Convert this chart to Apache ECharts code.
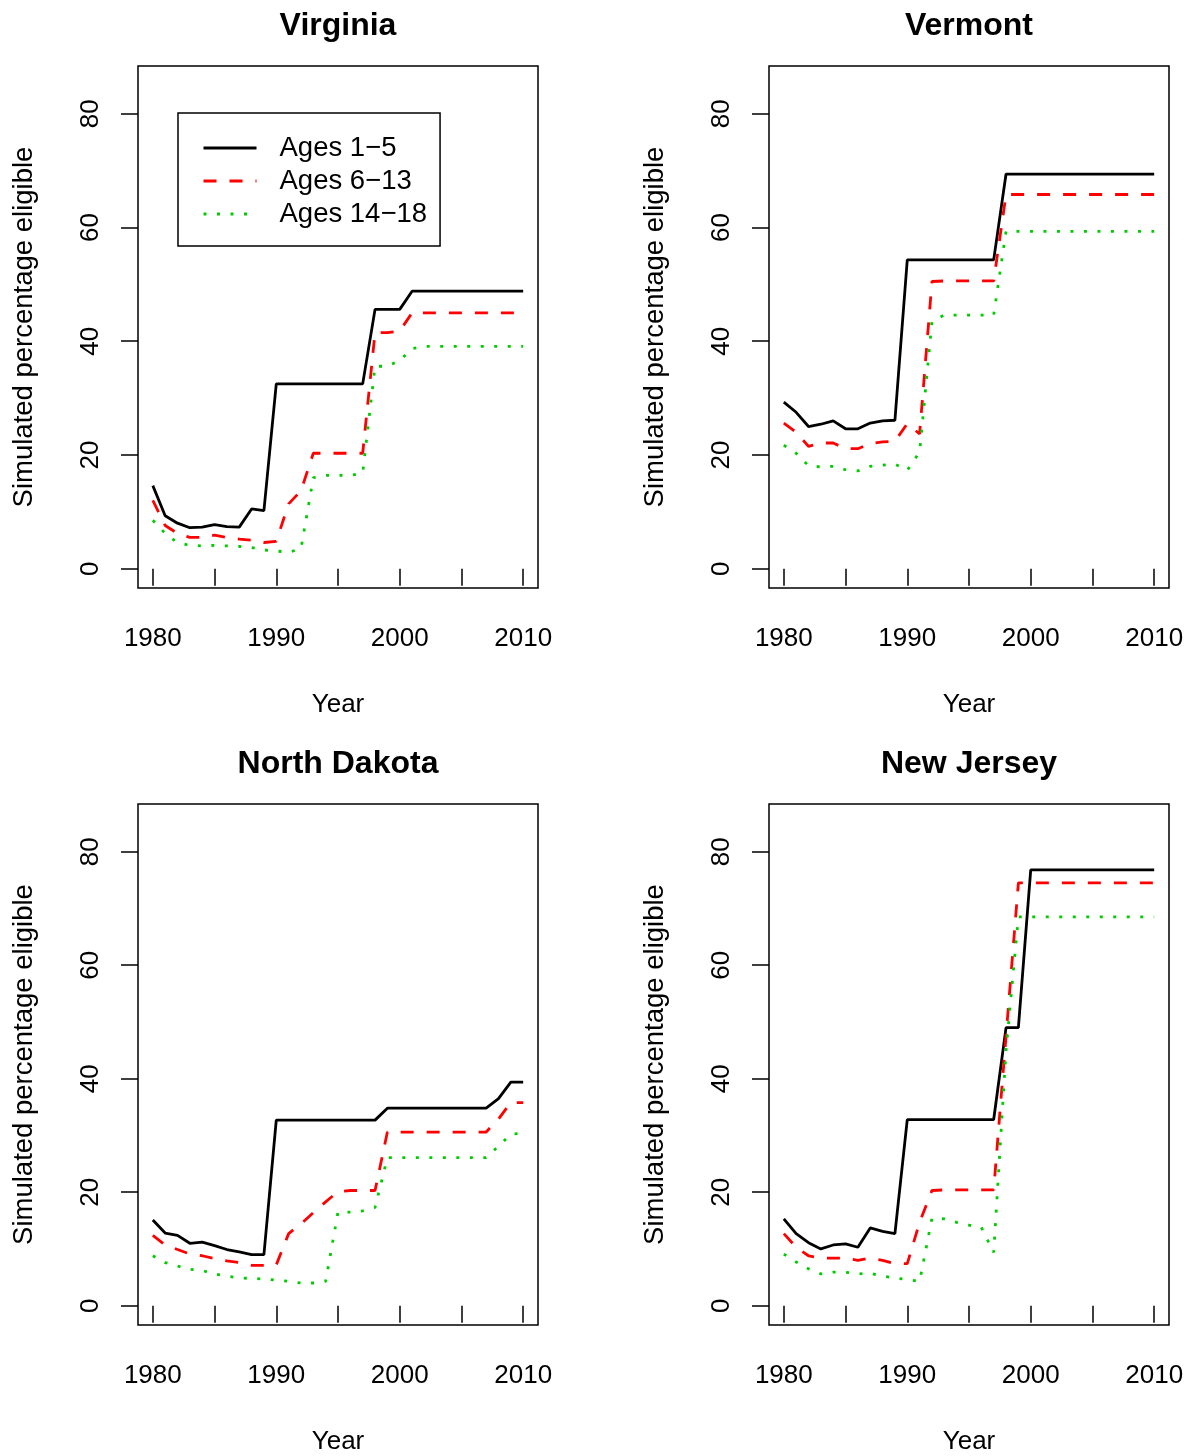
<!DOCTYPE html>
<html>
<head>
<meta charset="utf-8">
<title>Simulated percentage eligible</title>
<script src="https://cdn.jsdelivr.net/npm/echarts@6/dist/echarts.min.js"></script>
<style>
  html, body { margin: 0; padding: 0; background: #fff; }
  #chart { width: 1196px; height: 1456px; }
</style>
</head>
<body>
<div id="chart"></div>
<script>
var years = [1980, 1981, 1982, 1983, 1984, 1985, 1986, 1987, 1988, 1989,
    1990, 1991, 1992, 1993, 1994, 1995, 1996, 1997, 1998, 1999,
    2000, 2001, 2002, 2003, 2004, 2005, 2006, 2007, 2008, 2009, 2010];

var states = ['Virginia', 'Vermont', 'North Dakota', 'New Jersey'];
var ageGroups = ['Ages 1\u22125', 'Ages 6\u221213', 'Ages 14\u221218'];
var xTicks = [1980, 1985, 1990, 1995, 2000, 2005, 2010];
var xLabels = [1980, 1990, 2000, 2010];
var yTicks = [0, 20, 40, 60, 80];

// Virginia
var vaAges1to5 = [14.6, 9.3, 8.0, 7.2, 7.3, 7.75, 7.4, 7.3, 10.5, 10.2,
    32.5, 32.5, 32.5, 32.5, 32.5, 32.5, 32.5, 32.5, 45.6, 45.6,
    45.6, 48.8, 48.8, 48.8, 48.8, 48.8, 48.8, 48.8, 48.8, 48.8, 48.8];
var vaAges6to13 = [12.0, 7.6, 6.2, 5.5, 5.5, 5.9, 5.5, 5.2, 5.0, 4.6,
    4.8, 11.4, 13.7, 20.3, 20.3, 20.3, 20.3, 20.3, 41.5, 41.5,
    41.8, 45.0, 45.0, 45.0, 45.0, 45.0, 45.0, 45.0, 45.0, 45.0, 45.0];
var vaAges14to18 = [8.5, 6.2, 4.6, 4.1, 4.0, 4.1, 4.0, 3.9, 3.7, 3.3,
    3.1, 2.9, 3.5, 16.0, 16.4, 16.4, 16.4, 16.8, 35.6, 35.6,
    36.6, 38.7, 39.1, 39.1, 39.1, 39.1, 39.1, 39.1, 39.1, 39.1, 39.1];

// Vermont
var vtAges1to5 = [29.3, 27.5, 25.0, 25.4, 26.0, 24.6, 24.6, 25.6, 26.0, 26.1,
    54.3, 54.3, 54.3, 54.3, 54.3, 54.3, 54.3, 54.3, 69.4, 69.4,
    69.4, 69.4, 69.4, 69.4, 69.4, 69.4, 69.4, 69.4, 69.4, 69.4, 69.4];
var vtAges6to13 = [25.6, 24.0, 21.5, 22.1, 22.1, 21.1, 21.1, 22.0, 22.3, 22.4,
    25.5, 23.7, 50.5, 50.6, 50.6, 50.6, 50.6, 50.6, 65.8, 65.8,
    65.8, 65.8, 65.8, 65.8, 65.8, 65.8, 65.8, 65.8, 65.8, 65.8, 65.8];
var vtAges14to18 = [21.7, 20.3, 18.1, 17.9, 18.0, 17.4, 17.2, 18.0, 18.2, 18.4,
    17.3, 20.5, 43.5, 44.6, 44.6, 44.6, 44.6, 44.6, 59.3, 59.3,
    59.3, 59.3, 59.3, 59.3, 59.3, 59.3, 59.3, 59.3, 59.3, 59.3, 59.3];

// North Dakota
var ndAges1to5 = [15.1, 12.8, 12.4, 11.0, 11.2, 10.6, 9.9, 9.5, 9.0, 9.0,
    32.7, 32.7, 32.7, 32.7, 32.7, 32.7, 32.7, 32.7, 32.7, 34.8,
    34.8, 34.8, 34.8, 34.8, 34.8, 34.8, 34.8, 34.8, 36.5, 39.4, 39.4];
var ndAges6to13 = [12.4, 10.7, 9.9, 9.1, 8.8, 8.3, 7.9, 7.6, 7.1, 7.1,
    7.2, 12.7, 14.4, 16.4, 18.3, 20.1, 20.3, 20.3, 20.3, 30.6,
    30.6, 30.6, 30.6, 30.6, 30.6, 30.6, 30.6, 30.6, 32.9, 35.8, 35.8];
var ndAges14to18 = [8.8, 7.6, 7.0, 6.4, 6.2, 5.6, 5.2, 4.9, 4.8, 4.7,
    4.5, 4.3, 4.0, 4.0, 4.3, 16.5, 16.5, 16.7, 17.3, 26.1,
    26.1, 26.1, 26.1, 26.1, 26.1, 26.1, 26.1, 26.1, 28.1, 30.2, 30.4];

// New Jersey
var njAges1to5 = [15.3, 12.7, 11.1, 10.0, 10.7, 10.9, 10.3, 13.7, 13.1, 12.7,
    32.8, 32.8, 32.8, 32.8, 32.8, 32.8, 32.8, 32.8, 49.0, 49.0,
    76.8, 76.8, 76.8, 76.8, 76.8, 76.8, 76.8, 76.8, 76.8, 76.8, 76.8];
var njAges6to13 = [12.7, 10.3, 8.8, 8.4, 8.4, 8.4, 8.0, 8.4, 8.0, 7.4,
    7.4, 14.7, 20.3, 20.4, 20.4, 20.4, 20.4, 20.4, 47.5, 74.5,
    74.5, 74.5, 74.5, 74.5, 74.5, 74.5, 74.5, 74.5, 74.5, 74.5, 74.5];
var njAges14to18 = [9.1, 7.7, 6.5, 5.6, 5.9, 5.9, 5.6, 5.7, 5.2, 4.9,
    4.6, 4.3, 15.4, 15.3, 14.7, 14.2, 13.8, 9.4, 45.0, 68.5,
    68.5, 68.5, 68.5, 68.5, 68.5, 68.5, 68.5, 68.5, 68.5, 68.5, 68.5];

var stateData = [
    [vaAges1to5, vaAges6to13, vaAges14to18],
    [vtAges1to5, vtAges6to13, vtAges14to18],
    [ndAges1to5, ndAges6to13, ndAges14to18],
    [njAges1to5, njAges6to13, njAges14to18]
];

var FONT = '"Liberation Sans", Arial, sans-serif';
var panels = [
    { left: 138, top: 66 },
    { left: 769, top: 66 },
    { left: 138, top: 804 },
    { left: 769, top: 804 }
];
var lineColors = ['#000000', '#ff0000', '#00cd00'];
var lineTypes = ['solid', [13, 13], [3, 10.5]];

function toPairs(values) {
    return years.map(function (y, i) { return [y, values[i]]; });
}

function buildOptions() {
    var options = {
        backgroundColor: '#ffffff',
        animation: false,
        title: [],
        grid: [],
        xAxis: [],
        yAxis: [],
        series: [],
        legend: {
            data: ageGroups,
            orient: 'vertical',
            left: 178,
            top: 113,
            padding: [21, 13, 18, 24],
            itemGap: 5,
            itemWidth: 53,
            itemHeight: 14,
            borderColor: '#000',
            borderWidth: 1.5,
            selectedMode: false,
            itemStyle: { opacity: 0 },
            lineStyle: { width: 3 },
            textStyle: {
                fontFamily: FONT,
                fontSize: 27.5,
                color: '#000',
                padding: [0, 0, 0, 18]
            }
        }
    };

    panels.forEach(function (p, i) {
        options.title.push({
            text: states[i],
            left: p.left + 200,
            top: p.top - 56,
            padding: 0,
            textAlign: 'center',
            textStyle: { fontFamily: FONT, fontSize: 32, fontWeight: 'bold', color: '#000' }
        });
        options.grid.push({
            left: p.left,
            top: p.top,
            width: 400,
            height: 522,
            show: true,
            borderColor: '#000',
            borderWidth: 1.5,
            backgroundColor: 'transparent'
        });
        options.xAxis.push({
            gridIndex: i,
            type: 'value',
            min: 1978.8,
            max: 2011.2,
            name: 'Year',
            nameLocation: 'middle',
            nameGap: 104,
            nameTextStyle: { fontFamily: FONT, fontSize: 26, color: '#000' },
            axisLine: { show: false },
            splitLine: { show: false },
            axisTick: {
                show: true,
                length: 17,
                customValues: xTicks,
                lineStyle: { color: '#000', width: 1.5 }
            },
            axisLabel: {
                customValues: xLabels,
                margin: 38,
                fontFamily: FONT,
                fontSize: 26,
                color: '#000',
                formatter: function (v) { return String(v); }
            }
        });
        options.yAxis.push({
            gridIndex: i,
            type: 'value',
            min: -3.4,
            max: 88.4,
            name: 'Simulated percentage eligible',
            nameLocation: 'middle',
            nameRotate: 90,
            nameGap: 100,
            nameTextStyle: { fontFamily: FONT, fontSize: 27.5, color: '#000' },
            axisLine: { show: false },
            splitLine: { show: false },
            axisTick: {
                show: true,
                length: 17,
                customValues: yTicks,
                lineStyle: { color: '#000', width: 1.5 }
            },
            axisLabel: {
                customValues: yTicks,
                rotate: 90,
                margin: 34,
                fontFamily: FONT,
                fontSize: 26,
                color: '#000'
            }
        });
        stateData[i].forEach(function (values, k) {
            options.series.push({
                name: ageGroups[k],
                type: 'line',
                xAxisIndex: i,
                yAxisIndex: i,
                data: toPairs(values),
                symbol: 'none',
                showSymbol: false,
                silent: true,
                itemStyle: { color: lineColors[k] },
                lineStyle: { color: lineColors[k], width: 2.8, type: lineTypes[k], cap: 'butt' }
            });
        });
    });
    return options;
}

var chart = echarts.init(document.getElementById('chart'));
chart.setOption(buildOptions());
</script>
</body>
</html>
